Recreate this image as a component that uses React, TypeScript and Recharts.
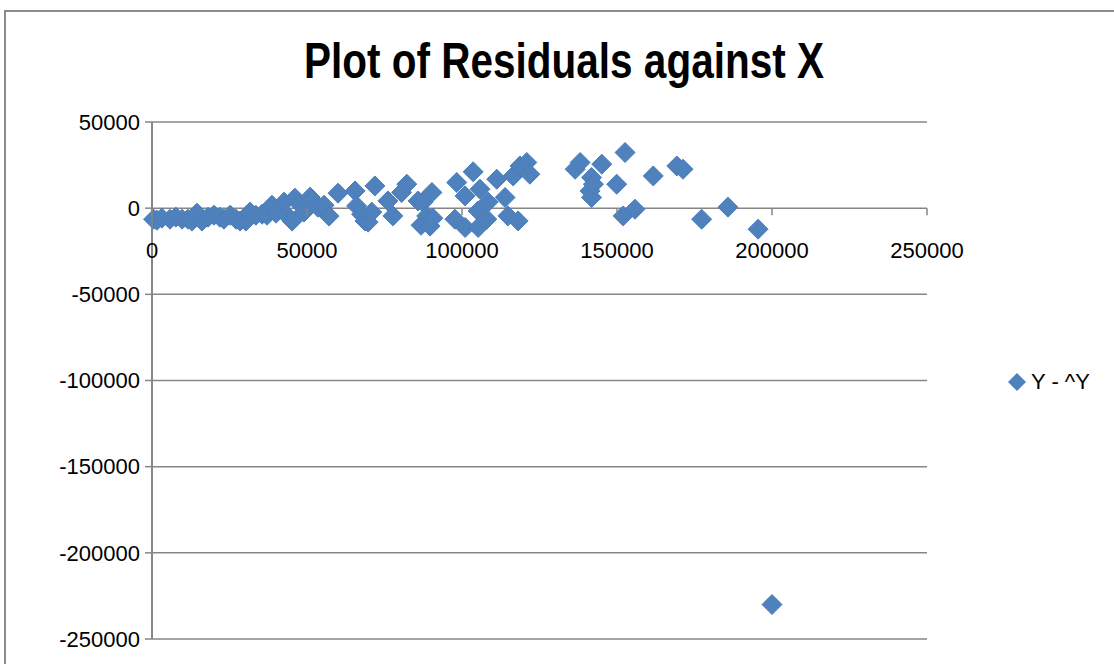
import React from "react"
import { CartesianGrid, Legend, ReferenceLine, Scatter, ScatterChart, XAxis, YAxis } from "recharts"

const chartTitle = "Plot of Residuals against X"
const seriesName = "Y - ^Y"

const xValues = [
  500, 1600, 3200, 5800, 7700, 9700, 11600, 12900, 14500, 16100,
  18100, 20000, 21900, 23200, 25200, 27100, 28400, 30300, 31600, 33500,
  35500, 37100, 38700, 40000, 42600, 43500, 45200, 46100, 47700, 49000,
  51000, 51600, 53500, 55500, 57100, 60000, 65500, 66000, 67600, 68700,
  69700, 70900, 71900, 76100, 77700, 80500, 82200, 85800, 86800, 87400,
  88600, 89700, 90300, 90600, 97700, 98300, 101000, 101000, 103600, 105200,
  105200, 105800, 108000, 108400, 111200, 113900, 114800, 116500, 118100, 118700,
  120900, 121900, 136500, 138100, 141300, 141800, 141800, 142400, 145100, 149900,
  152000, 152600, 155800, 161700, 169300, 171300, 177300, 185800, 195500, 200000,
]

const residuals = [
  -6400, -7000, -5800, -6400, -5200, -6400, -6400, -7500, -2900, -7500,
  -5200, -4100, -5200, -6400, -4100, -6400, -7500, -7500, -2300, -4100,
  -3500, -4100, 1700, -2900, 3500, -4100, -7500, 5800, 2300, -2300,
  6400, 4600, 600, 1700, -4600, 8700, 10000, 1300, -3500, -7400,
  -8100, -2300, 12900, 4200, -4500, 9100, 13900, 4200, -9900, 3500,
  -4500, -10400, 9100, -5800, -6400, 14900, 7100, -11200, 21100, -1600,
  -11200, 11000, -6400, 3500, 16800, 6200, -4500, 18700, -7400, 24500,
  26500, 19700, 22600, 26500, 10000, 17800, 6200, 13900, 25500, 13900,
  -4500, 32300, -600, 18700, 24500, 22600, -6400, 600, -12200, -230000,
]

const xTicks = [0, 50000, 100000, 150000, 200000, 250000]
const yTicks = [50000, 0, -50000, -100000, -150000, -200000, -250000]

const data = xValues.map((x, i) => ({ x, y: residuals[i] }))

const WIDTH = 1114
const HEIGHT = 664
const MARGIN = { top: 122, right: 187, bottom: 24, left: 52 }
const X_AXIS_HEIGHT = 1
const Y_AXIS_WIDTH = 100
const Y_MIN = -250000
const Y_MAX = 50000
const plotHeight = HEIGHT - MARGIN.top - MARGIN.bottom - X_AXIS_HEIGHT
const plotBottom = MARGIN.top + plotHeight
const zeroY = MARGIN.top + (plotHeight * Y_MAX) / (Y_MAX - Y_MIN)

const AXIS_GRAY = "#868686"
const MARKER_FILL = "#4F81BD"
const MARKER_EDGE = "#4A7EBB"
const FONT = "'Liberation Sans', Arial, sans-serif"

function Diamond(props: any) {
  const { cx, cy } = props
  const r = 10
  return (
    <path
      d={`M${cx},${cy - r}L${cx + r},${cy}L${cx},${cy + r}L${cx - r},${cy}Z`}
      fill={MARKER_FILL}
      stroke={MARKER_EDGE}
      strokeWidth={1}
    />
  )
}

// x axis crosses at y = 0, so labels sit under the zero line, not at the bottom.
// the value axis (x = 0) is drawn with the first tick.
function ZeroLineTick(props: any) {
  const { x, payload } = props
  return (
    <g>
      {payload.value === 0 && (
        <line x1={x} x2={x} y1={MARGIN.top} y2={plotBottom} stroke={AXIS_GRAY} strokeWidth={1.5} />
      )}
      <line x1={x} x2={x} y1={zeroY} y2={zeroY + 7} stroke={AXIS_GRAY} strokeWidth={1.5} />
      <text x={x} y={zeroY + 50} textAnchor="middle" fontSize={22} fontFamily={FONT} fill="#000">
        {payload.value}
      </text>
    </g>
  )
}

function LegendBox(props: any) {
  const { payload } = props
  return (
    <div style={{ display: "flex", alignItems: "center", fontFamily: FONT, fontSize: 22 }}>
      {(payload || []).map((entry: any) => (
        <div key={entry.value} style={{ display: "flex", alignItems: "center" }}>
          <svg width={20} height={20} style={{ marginRight: 4 }}>
            <path d="M10,1L19,10L10,19L1,10Z" fill={MARKER_FILL} />
          </svg>
          <span style={{ color: "#000" }}>{entry.value}</span>
        </div>
      ))}
    </div>
  )
}

export default function App() {
  return (
    <div
      style={{
        position: "absolute",
        left: 0,
        top: 0,
        width: WIDTH,
        height: HEIGHT,
        overflow: "hidden",
        background: "#fff",
      }}
    >
      <div
        style={{
          position: "absolute",
          left: 4,
          top: 10,
          width: 1200,
          height: 800,
          border: "2px solid #8c8c8c",
        }}
      />
      <div
        style={{
          position: "absolute",
          left: 0,
          top: 36,
          width: 1128,
          textAlign: "center",
          fontFamily: FONT,
          fontWeight: "bold",
          fontSize: 50,
          lineHeight: 1,
          color: "#000",
          transform: "scaleX(0.81)",
          transformOrigin: "564px 0",
        }}
      >
        {chartTitle}
      </div>
      <div style={{ position: "absolute", left: 0, top: 0 }}>
        <ScatterChart width={WIDTH} height={HEIGHT} margin={MARGIN}>
          <CartesianGrid horizontal vertical={false} stroke={AXIS_GRAY} strokeWidth={1.5} />
          <XAxis
            type="number"
            dataKey="x"
            domain={[0, 250000]}
            ticks={xTicks}
            height={X_AXIS_HEIGHT}
            axisLine={false}
            tickLine={false}
            tick={<ZeroLineTick />}
            interval={0}
          />
          <YAxis
            type="number"
            dataKey="y"
            domain={[Y_MIN, Y_MAX]}
            ticks={yTicks}
            width={Y_AXIS_WIDTH}
            interval={0}
            axisLine={{ stroke: AXIS_GRAY, strokeWidth: 1.5 }}
            tickLine={{ stroke: AXIS_GRAY, strokeWidth: 1.5 }}
            tickSize={7}
            tickMargin={5}
            tick={{ fill: "#000", fontSize: 22, fontFamily: FONT }}
          />
          <ReferenceLine x={0} stroke={AXIS_GRAY} strokeWidth={1.5} ifOverflow="visible" />
          <Legend
            layout="horizontal"
            verticalAlign="middle"
            align="center"
            content={<LegendBox />}
            wrapperStyle={{ left: 1007, top: 369, width: 110 }}
          />
          <Scatter
            name={seriesName}
            data={data}
            fill={MARKER_FILL}
            shape={<Diamond />}
            isAnimationActive={false}
          />
        </ScatterChart>
      </div>
    </div>
  )
}
